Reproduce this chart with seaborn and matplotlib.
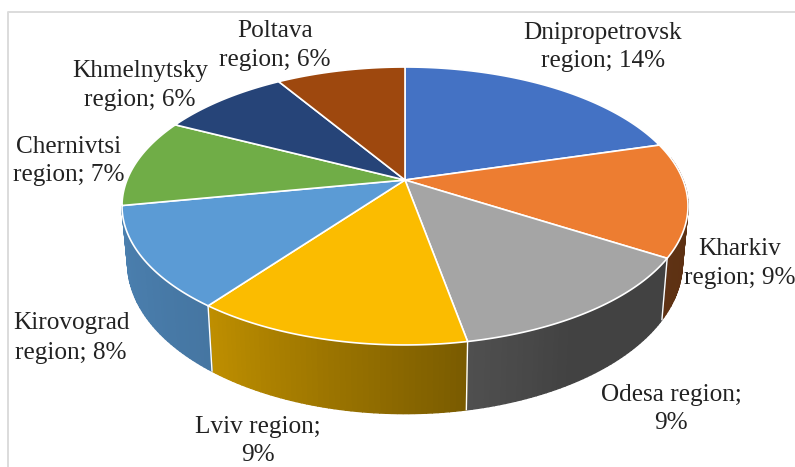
import numpy as np
import seaborn as sns
import matplotlib.pyplot as plt

# regions, clockwise from the top of the pie
regions = ['Dnipropetrovsk', 'Kharkiv', 'Odesa', 'Lviv', 'Kirovograd',
           'Chernivtsi', 'Khmelnytsky', 'Poltava']
shares = [14, 9, 9, 9, 8, 7, 6, 6]
colors = ['#4472C4', '#ED7D31', '#A5A5A5', '#FBBC00', '#5B9BD5',
          '#70AD47', '#264478', '#9E480E']
label_lines = [
    ['Dnipropetrovsk', 'region; 14%'],
    ['Kharkiv', 'region; 9%'],
    ['Odesa region;', '9%'],
    ['Lviv region;', '9%'],
    ['Kirovograd', 'region; 8%'],
    ['Chernivtsi', 'region; 7%'],
    ['Khmelnytsky', 'region; 6%'],
    ['Poltava', 'region; 6%'],
]
# label centres in pixels (x, y of first line, y of second line)
label_pos = [(603, 33, 61), (740, 249, 278), (671, 395, 423), (258, 427, 455),
             (71, 323, 353), (69, 147, 175), (140, 71, 100), (275, 31, 60)]

sns.set_theme(style='white')
plt.rcParams['font.family'] = ['Liberation Serif', 'DejaVu Serif']
palette = sns.color_palette(colors)

# perspective of the pie, apex and tilt
cx, cy = 405, 180
a, b, k = 134.1, 278.0, 0.187


def top_rim(theta):
    t = np.radians(theta)
    x, y = np.sin(t), np.cos(t)
    d = 1 + k * y
    return b * x / d, a * y / d


def to_px(X, Y):
    return cx + X, cy - Y


def bottom_rim(theta):
    X, Y = top_rim(theta)
    return 0.98 * X, 1.083 * Y - 55


def shade(theta):
    # the side wall gets darker from left to right
    return np.interp(theta, [100, 122, 150, 169, 217, 240, 280],
                     [0.39, 0.40, 0.40, 0.48, 0.76, 0.80, 0.84])


fig = plt.figure(figsize=(7.95, 4.67), dpi=100)
ax = fig.add_axes([0, 0, 1, 1])
ax.set_xlim(0, 795)
ax.set_ylim(467, 0)
ax.axis('off')

# frame of the chart area, only left and top show
ax.plot([7.5, 7.5, 795], [467, 11.5, 11.5], color='#dcdcdc', lw=1.4)

edges = np.cumsum([0] + shares) / sum(shares) * 360

# side walls first, only the slices on the near side have one
for i in range(1, 5):
    lo, hi = max(edges[i], 80), edges[i + 1]
    steps = np.linspace(lo, hi, int((hi - lo)) + 2)
    for t0, t1 in zip(steps[:-1], steps[1:]):
        ts = np.array([t0, t1])
        xt, yt = to_px(*top_rim(ts))
        xb, yb = to_px(*bottom_rim(ts))
        col = np.array(palette[i]) * shade((t0 + t1) / 2)
        ax.fill(np.r_[xt, xb[::-1]], np.r_[yt, yb[::-1]], facecolor=col, edgecolor=col,
                lw=1.0, zorder=2)

for e in edges[2:5]:
    xt, yt = to_px(*top_rim(e))
    xb, yb = to_px(*bottom_rim(e))
    ax.plot([xt, xb], [yt, yb], color='white', lw=1.0, zorder=3)

# top face
for i in range(len(shares)):
    ts = np.linspace(edges[i], edges[i + 1], 120)
    xs, ys = to_px(*top_rim(ts))
    ax.fill(np.r_[cx, xs], np.r_[cy, ys], facecolor=palette[i], edgecolor='white',
            lw=1.2, joinstyle='round', zorder=4)

for lines, (lx, y1, y2) in zip(label_lines, label_pos):
    for txt, ly in zip(lines, (y1, y2)):
        ax.text(lx, ly, txt, ha='center', va='center', fontsize=18.2, color='#222222', zorder=5)

plt.savefig('out.png', dpi=100)
